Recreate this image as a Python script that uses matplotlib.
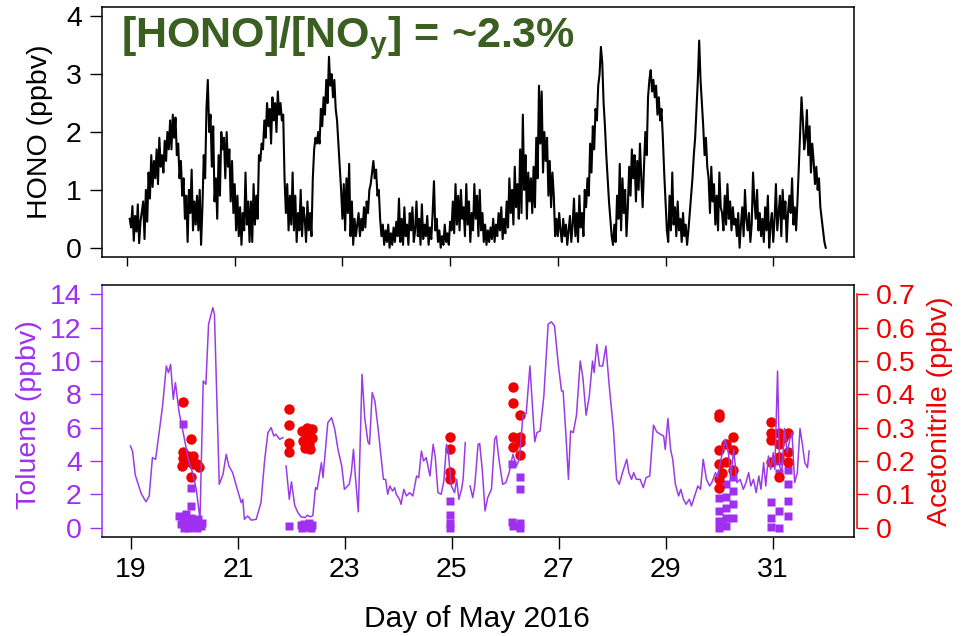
import matplotlib
matplotlib.use("Agg")
import matplotlib.pyplot as plt
import numpy as np

plt.rcParams['font.family'] = ['Liberation Sans', 'DejaVu Sans']
plt.rcParams['mathtext.fontset'] = 'custom'
plt.rcParams['mathtext.bf'] = 'Liberation Sans:bold'
plt.rcParams['mathtext.rm'] = 'Liberation Sans'

# HONO, one reading every 0.025 day from 19.05
hono_start = 19.05
hono_step = 0.025
hono_ppbv = [
    0.50, 0.35, 0.72, 0.12, 0.55, 0.28, 0.75, 0.08, 0.45, 0.62,
    0.80, 0.15, 1.00, 0.45, 1.30, 0.85, 1.60, 1.05, 1.50, 1.20,
    1.70, 1.10, 1.90, 1.40, 1.60, 1.30, 1.85, 1.50, 2.00, 1.70,
    2.20, 1.70, 2.30, 1.90, 2.25, 1.60, 1.80, 1.20, 1.50, 0.90,
    1.20, 0.50, 0.90, 0.10, 1.00, 0.60, 1.35, 0.30, 0.80, 0.40,
    0.90, 0.30, 1.00, 0.05, 0.70, 1.60, 1.20, 2.40, 2.90, 2.00,
    2.30, 1.40, 2.10, 0.80, 1.20, 0.50, 1.60, 0.90, 2.00, 1.70,
    1.90, 1.20, 2.00, 1.40, 1.70, 0.80, 1.50, 0.60, 1.10, 0.30,
    0.90, 0.20, 0.70, 0.05, 0.60, 0.30, 1.30, 0.40, 0.80, 0.10,
    0.80, 0.10, 1.10, 0.40, 0.90, 0.50, 1.60, 1.50, 1.80, 1.70,
    2.20, 1.90, 2.50, 2.10, 2.40, 1.80, 2.60, 2.20, 2.50, 2.00,
    2.70, 2.30, 2.50, 2.20, 2.30, 1.20, 0.60, 1.10, 0.30, 0.90,
    0.40, 1.30, 0.30, 0.90, 0.10, 0.60, 0.30, 1.00, 0.20, 0.70,
    0.50, 0.10, 0.80, 0.30, 0.60, 0.20, 1.20, 1.70, 1.90, 1.80,
    2.00, 1.80, 2.40, 2.10, 2.60, 2.30, 2.90, 2.50, 3.30, 2.80,
    3.00, 2.60, 2.90, 2.40, 2.20, 1.80, 1.40, 1.00, 0.50, 1.10,
    0.30, 1.20, 0.60, 1.45, 0.20, 0.80, 0.05, 0.50, 0.20, 0.40,
    0.60, 0.20, 0.50, 0.30, 0.70, 0.35, 0.80, 0.60, 1.00, 1.10,
    1.30, 1.50, 1.20, 1.35, 0.90, 1.00, 0.50, 0.20, 0.40, 0.05,
    0.30, 0.10, 0.40, 0.00, 0.25, 0.05, 0.35, 0.10, 0.45, 0.20,
    0.85, 0.10, 0.50, 0.05, 0.70, 0.20, 0.40, 0.05, 0.60, 0.30,
    0.70, 0.10, 0.30, 0.80, 0.20, 0.50, 0.05, 0.75, 0.15, 0.40,
    0.20, 0.55, 0.05, 0.35, 0.15, 0.60, 1.15, 0.30, 0.50, 0.10,
    0.30, 0.00, 0.20, 0.05, 0.40, 0.10, 0.25, 0.05, 0.45, 0.30,
    0.80, 0.25, 1.10, 0.40, 0.90, 0.30, 1.00, 0.50, 0.70, 0.20,
    1.10, 0.40, 0.80, 0.10, 0.60, 0.30, 1.10, 0.50, 0.90, 0.20,
    1.00, 0.30, 0.60, 0.10, 0.40, 0.05, 0.30, 0.10, 0.35, 0.15,
    0.50, 0.10, 0.40, 0.20, 0.60, 0.30, 0.70, 0.15, 0.50, 0.25,
    0.80, 0.35, 1.20, 0.60, 1.00, 0.40, 1.40, 0.70, 1.10, 0.50,
    1.70, 0.60, 2.30, 1.00, 1.60, 0.50, 1.30, 0.80, 1.20, 0.60,
    1.40, 0.70, 1.90, 1.20, 2.80, 1.80, 2.70, 1.30, 2.00, 1.50,
    1.90, 0.90, 1.50, 0.70, 1.30, 0.90, 0.20, 0.50, 0.20, 0.60,
    0.30, 0.10, 0.50, 0.20, 0.40, 0.05, 0.30, 0.55, 0.10, 0.40,
    0.85, 0.20, 0.60, 0.10, 0.90, 0.35, 0.60, 0.20, 1.00, 0.70,
    1.20, 0.90, 1.80, 1.30, 2.10, 1.70, 2.40, 2.20, 2.80, 3.00,
    3.47, 3.20, 2.50, 2.10, 1.60, 1.20, 0.80, 0.50, 0.20, 0.05,
    0.40, 0.10, 0.90, 0.50, 1.45, 0.30, 1.20, 0.60, 1.00, 0.20,
    0.70, 1.40, 0.90, 1.70, 1.20, 1.60, 0.80, 1.50, 1.00, 1.80,
    1.20, 0.70, 1.40, 2.00, 1.60, 2.60, 2.90, 3.07, 2.70, 2.90,
    2.60, 2.80, 2.30, 2.60, 2.20, 2.40, 1.90, 1.30, 0.80, 0.30,
    0.10, 0.90, 0.30, 1.30, 0.40, 0.70, 0.20, 0.80, 0.30, 0.50,
    0.10, 0.60, 0.20, 0.40, 0.05, 0.30, 0.60, 0.90, 1.20, 1.60,
    1.90, 2.40, 2.90, 3.58, 2.90, 2.50, 2.10, 1.60, 1.90, 1.40,
    1.20, 0.60, 1.40, 0.80, 1.10, 0.40, 0.90, 0.30, 1.30, 0.70,
    0.60, 0.30, 0.90, 0.40, 1.10, 0.50, 0.80, 0.30, 0.70, 0.40,
    0.50, 0.20, 0.60, 0.00, 0.40, 0.70, 0.20, 1.00, 0.50, 0.30,
    0.60, 0.10, 0.40, 1.30, 0.80, 0.50, 1.00, 0.30, 0.60, 0.20,
    0.50, 0.10, 0.70, 0.30, 0.90, 0.00, 0.40, 0.60, 0.10, 0.50,
    1.10, 0.30, 0.60, 0.90, 0.20, 1.00, 0.50, 0.80, 0.10, 0.60,
    0.90, 0.60, 1.20, 0.40, 0.70, 0.30, 0.80, 1.40, 2.00, 2.60,
    2.20, 1.70, 1.90, 2.38, 1.60, 2.10, 1.30, 1.80, 1.50, 1.10,
    1.40, 1.00, 1.20, 0.70, 0.50, 0.30, 0.10, 0.00,
]
hono_day = hono_start + hono_step * np.arange(len(hono_ppbv))

# toluene line, nan = gap
tol_day = [
    18.99, 19.03, 19.08, 19.12, 19.19, 19.28, 19.34, 19.40, 19.46, 19.50,
    19.59, 19.66, 19.70, 19.74, 19.79, 19.83, 19.90, 20.00, 20.07, 20.15,
    20.22, 20.29, 20.35, 20.40, 20.45, 20.53, 20.56, 20.65, 20.72, 20.78,
    20.83, 20.90, 20.97, 21.06, 21.09, 21.12, 21.18, 21.25, 21.34, 21.43,
    21.50, 21.56, 21.62, 21.67, 21.71, 21.78, 21.84, 21.87, 21.90, 21.96,
    22.00, 22.06, 22.12, 22.18, 22.25, 22.30, 22.35, 22.40, 22.45, 22.48,
    22.56, 22.59, 22.62, 22.68, 22.75, 22.81, 22.87, 22.94, 22.99, 23.08,
    23.12, 23.16, 23.19, 23.25, 23.32, 23.37, 23.43, 23.46, 23.51, 23.56,
    23.62, 23.68, 23.72, 23.76, 23.80, 23.84, 23.89, 23.93, 23.96, 24.02,
    24.05, 24.10, 24.15, 24.21, 24.27, 24.34, 24.38, 24.43, 24.47, 24.52,
    24.59, 24.65, 24.69, 24.74, 24.80, 24.85, 24.90, 24.93, 24.99, 25.05,
    25.09, 25.13, 25.18, 25.21, 25.25, 25.29, 25.34, 25.39, 25.43, 25.49,
    25.52, 25.57, 25.62, 25.67, 25.74, 25.80, 25.83, 25.88, 25.95, 26.01,
    26.07, 26.11, 26.14, 26.21, 26.26, 26.33, 26.39, 26.46, 26.51, 26.55,
    26.59, 26.65, 26.72, 26.80, 26.86, 26.92, 26.99, 27.05, 27.08, 27.13,
    27.18, 27.22, 27.27, 27.33, 27.40, 27.45, 27.51, 27.57, 27.63, 27.66,
    27.71, 27.76, 27.82, 27.88, 27.94, 28.02, 28.08, 28.13, 28.19, 28.27,
    28.31, 28.36, 28.40, 28.45, 28.52, 28.58, 28.63, 28.70, 28.77, 28.83,
    28.90, 28.96, 28.99, 29.04, 29.09, 29.13, 29.18, 29.24, 29.28, 29.33,
    29.38, 29.44, 29.48, 29.55, 29.60, 29.65, 29.70, 29.76, 29.82, 29.86,
    29.93, 29.97, 30.02, 30.11, 30.17, 30.22, 30.27, 30.33, 30.39, 30.45,
    30.50, 30.55, 30.59, 30.64, 30.69, 30.74, 30.78, 30.83, 30.87, 30.92,
    30.96, 31.01, 31.04, 31.09, 31.13, 31.17, 31.22, 31.27, 31.32, 31.36,
    31.41, 31.46, 31.51, 31.55, 31.60, 31.65, 31.68,
]
tol_ppbv = [
    4.9, 4.55, 3.15, 2.75, 2.05, 1.55, 1.9, 4.2, 4.1, 5.1,
    7.3, 9.7, 9.3, 9.8, 7.7, 8.7, 6.9, 5.3, 4.1, 3.3,
    2.3, 0.5, 8.8, 8.6, 12.2, 13.2, 12.8, 2.6, 3.2, 4.4,
    3.7, 3.3, 2.5, 1.5, 1.7, 0.5, 0.7, 0.45, 0.5, 1.5,
    4.1, 5.7, 6.0, 5.5, 5.6, 5.3, 5.4, np.nan, 3.7, 1.7,
    2.75, 1.35, 0.9, 0.65, 0.6, 0.75, 0.65, 0.72, 2.4, 2.3,
    3.9, 3.0, 4.1, 6.3, 6.6, 5.9, 4.7, 3.7, 2.3, 2.6,
    3.3, 4.7, 3.3, 0.95, 9.2, 6.6, 5.15, 5.0, 8.1, 7.6,
    5.95, 4.1, 2.9, 2.9, 2.0, 2.5, 2.2, 2.4, 2.0, 1.7,
    1.4, 2.3, 1.9, 2.1, 1.9, 3.1, 3.0, 4.6, 4.0, 4.2,
    3.1, 5.0, 4.2, 2.1, 2.0, 2.8, 5.0, 4.6, 2.5, 2.1,
    2.9, 1.7, 2.3, 2.9, 5.1, np.nan, 2.5, 1.8, 2.6, 5.0,
    5.05, 3.4, 1.0, 1.8, 2.3, 5.3, 5.5, 4.1, 2.6, 2.7,
    3.3, 3.9, 4.4, 3.7, 4.1, 6.75, 6.85, 9.7, 7.1, 5.15,
    5.7, 5.8, 7.9, 12.2, 12.35, 12.1, 9.8, 8.2, 8.2, 5.7,
    2.9, 5.8, 5.7, 6.75, 10.0, 9.0, 6.75, 7.9, 10.0, 9.3,
    11.0, 9.7, 9.7, 10.9, 8.6, 5.95, 2.9, 2.6, 3.3, 4.1,
    3.3, 2.9, 3.3, 2.9, 2.9, 2.4, 3.0, 3.1, 6.15, 5.75,
    5.6, 5.5, 4.7, 6.55, 4.7, 4.1, 2.6, 1.9, 2.3, 1.7,
    1.4, 1.7, 1.3, 2.0, 2.5, 2.3, 4.1, 2.9, 2.5, 2.7,
    3.3, 3.0, 3.9, 5.3, 4.5, 3.1, 4.7, 2.7, 2.9, 2.3,
    2.7, 3.3, 2.5, 2.9, 2.1, 3.1, 2.3, 3.9, 2.5, 4.3,
    3.5, 4.5, 3.5, 9.4, 3.7, 3.3, 5.95, 4.5, 5.3, 5.7,
    2.7, 3.3, 5.95, 5.1, 3.9, 3.6, 4.6,
]

# toluene canister samples (squares)
can_day = [
    19.97, 20.12, 20.12, 19.90, 19.93, 19.97, 19.99, 20.03, 20.05, 20.08,
    20.12, 20.15, 20.19, 20.23, 20.26, 20.30, 20.32,
    21.96, 22.17, 22.20, 22.24, 22.28, 22.32, 22.36, 22.39,
    24.96, 24.96, 24.96, 24.96,
    26.13, 26.27, 26.27, 26.13, 26.15, 26.27, 26.27,
    29.99, 29.99, 29.99, 29.99, 30.13, 30.13, 30.13, 30.13, 30.13, 30.26,
    30.26, 30.26, 30.26, 30.05,
    30.97, 30.97, 30.97, 31.12, 31.12, 31.28, 31.28, 31.28, 31.12, 31.12,
    31.28,
]
can_toluene = [
    6.2, 2.4, 1.3, 0.7, 0.2, 0.5, 0.0, 0.8, 0.3, 0.0,
    0.6, 0.1, 0.4, 0.0, 0.5, 0.1, 0.3,
    0.1, 0.15, 0.0, 0.2, 0.05, 0.25, 0.0, 0.15,
    1.6, 0.75, 0.3, 0.0,
    3.8, 3.04, 2.33, 0.35, 0.1, 0.25, 0.0,
    1.8, 1.0, 0.4, 0.0, 2.6, 1.83, 1.2, 0.6, 0.1, 3.05,
    2.2, 1.4, 0.6, 0.2,
    1.53, 0.6, 0.05, 1.0, 0.0, 3.45, 2.6, 1.6, 3.3, 4.0,
    0.7,
]

# acetonitrile (circles)
acn_day = [
    19.97, 19.97, 19.97, 19.96, 19.99, 20.02, 20.06, 20.12, 20.12, 20.15,
    20.15, 20.24, 20.27,
    21.96, 21.96, 21.96, 21.96, 22.20, 22.22, 22.25, 22.27, 22.30, 22.32,
    22.35, 22.38, 22.38, 22.33,
    24.96, 24.96, 24.96, 24.96,
    26.15, 26.15, 26.27, 26.14, 26.27, 26.14, 26.27, 26.27,
    29.99, 30.00, 29.99, 29.99, 29.99, 29.99, 30.13, 30.13, 30.26, 30.26,
    30.26, 30.05,
    30.97, 30.97, 30.97, 30.97, 31.12, 31.12, 31.12, 31.11, 31.28, 31.28,
    31.28, 31.20,
]
acn_ppbv = [
    0.378, 0.228, 0.208, 0.185, 0.195, 0.200, 0.215, 0.265, 0.152, 0.215,
    0.190, 0.190, 0.182,
    0.356, 0.308, 0.253, 0.227, 0.290, 0.260, 0.240, 0.280, 0.300, 0.250,
    0.235, 0.270, 0.295, 0.285,
    0.272, 0.237, 0.167, 0.147,
    0.423, 0.373, 0.338, 0.272, 0.272, 0.242, 0.257, 0.217,
    0.333, 0.340, 0.232, 0.192, 0.147, 0.120, 0.252, 0.197, 0.272, 0.232,
    0.172, 0.165,
    0.318, 0.283, 0.262, 0.197, 0.283, 0.252, 0.212, 0.152, 0.283, 0.227,
    0.197, 0.270,
]

day_ticks = [19, 21, 23, 25, 27, 29, 31]
purple = '#A030F0'
red = '#F00000'
green = '#3B5E21'
fs = 20.5

fig = plt.figure(figsize=(9.64, 6.36), dpi=100)

# --- top panel: HONO ---
ax1 = fig.add_axes([0.1058, 0.5959, 0.7801, 0.3931])
ax1.plot(hono_day, hono_ppbv, color='black', lw=1.5)
ax1.set_xlim(18.535, 32.5)
ax1.set_ylim(-0.16, 4.16)
ax1.set_yticks([0, 1, 2, 3, 4])
ax1.set_xticks(day_ticks)
ax1.set_xticklabels([])
ax1.tick_params(axis='y', direction='out', length=8.5, width=1, labelsize=fs, pad=6)
ax1.tick_params(axis='x', direction='out', length=6.5, width=1)
for s in ax1.spines.values():
    s.set_linewidth(1.1)

fig.text(40 / 964, 1 - 132 / 636, 'HONO (ppbv)', rotation=90, fontsize=fs,
         ha='center', va='center')
fig.text(121 / 964, 1 - 47 / 636, r'[HONO]/[NO$_{\mathbf{y}}$] = ~2.3%',
         fontsize=31, fontweight='bold', color=green, ha='left', va='baseline')

# --- bottom panel: toluene + acetonitrile ---
ax2 = fig.add_axes([0.1058, 0.1557, 0.7801, 0.3962])
ax2.set_xlim(18.457, 32.52)
ax2.set_ylim(-0.56, 14.56)
ax2.plot(can_day, can_toluene, 's', color=purple, ms=6, mec='none')
ax2.set_yticks(range(0, 15, 2))
ax2.set_xticks(day_ticks)
ax2.tick_params(axis='y', direction='out', length=8.5, width=1, labelsize=fs,
                pad=6, colors=purple)
ax2.tick_params(axis='x', direction='out', length=8.5, width=1, labelsize=fs, pad=6)
for s in ax2.spines.values():
    s.set_linewidth(1.1)
ax2.spines['left'].set_color(purple)

ax3 = ax2.twinx()
ax3.set_ylim(-0.028, 0.728)
ax3.plot(acn_day, acn_ppbv, 'o', color=red, ms=7.5, mec='none')
ax3.plot(tol_day, tol_ppbv, color='#9A3CE6', lw=1.1, transform=ax2.transData)
ax3.set_xlim(ax2.get_xlim())
ax3.set_yticks([0, 0.1, 0.2, 0.3, 0.4, 0.5, 0.6, 0.7])
ax3.set_yticklabels(['0', '0.1', '0.2', '0.3', '0.4', '0.5', '0.6', '0.7'])
ax3.tick_params(axis='y', direction='out', length=8, width=1, labelsize=fs,
                pad=6, colors=red)
for k in ['left', 'top', 'bottom']:
    ax3.spines[k].set_visible(False)
ax3.spines['right'].set_color(red)
ax3.spines['right'].set_linewidth(1.1)
ax3.spines['right'].set_position(('outward', 2))
ax3.spines['right'].set_bounds(0, 0.7)

fig.text(29 / 964, 1 - 415 / 636, 'Toluene (ppbv)', rotation=90, fontsize=fs,
         color=purple, ha='center', va='center')
fig.text(940 / 964, 1 - 411 / 636, 'Acetonitrile (ppbv)', rotation=90, fontsize=fs,
         color=red, ha='center', va='center')
fig.text(477 / 964, 1 - 627 / 636, 'Day of May 2016', fontsize=21.5,
         ha='center', va='baseline')

fig.savefig('out.png', dpi=100)
